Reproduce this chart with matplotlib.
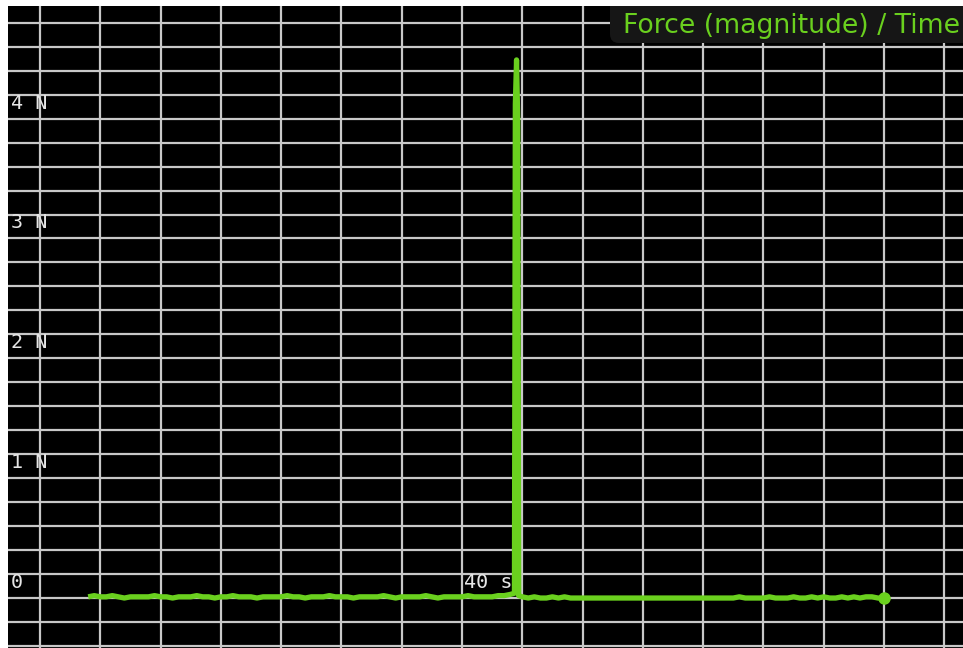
import numpy as np
import matplotlib
matplotlib.use("Agg")
import matplotlib.pyplot as plt
from matplotlib.patches import FancyBboxPatch
from matplotlib.transforms import IdentityTransform

# ---- data ----
pre_time = [round(33.8 + 0.1 * i, 2) for i in range(71)]          # 33.8 .. 40.8 s
pre_force = [0.01, 0.02, 0.01, 0.01, 0.02, 0.01, 0.00, 0.01, 0.01, 0.01,
             0.01, 0.02, 0.01, 0.01, 0.00, 0.01, 0.01, 0.01, 0.02, 0.01,
             0.01, 0.00, 0.01, 0.01, 0.02, 0.01, 0.01, 0.01, 0.00, 0.01,
             0.01, 0.01, 0.01, 0.02, 0.01, 0.01, 0.00, 0.01, 0.01, 0.01,
             0.02, 0.01, 0.01, 0.01, 0.00, 0.01, 0.01, 0.01, 0.01, 0.02,
             0.01, 0.00, 0.01, 0.01, 0.01, 0.01, 0.02, 0.01, 0.00, 0.01,
             0.01, 0.01, 0.01, 0.02, 0.01, 0.01, 0.01, 0.01, 0.02, 0.02,
             0.03]
spike_time = [40.87, 40.885, 40.905, 40.925, 40.94]
spike_force = [0.04, 4.12, 4.49, 3.97, 0.02]
post_time = [round(41.0 + 0.1 * i, 2) for i in range(61)]          # 41.0 .. 47.0 s
post_force = [0.01, 0.00, 0.01, 0.00, 0.00, 0.01, 0.00, 0.01, 0.00, 0.00,
              0.00, 0.00, 0.00, 0.00, 0.00, 0.00, 0.00, 0.00, 0.00, 0.00,
              0.00, 0.00, 0.00, 0.00, 0.00, 0.00, 0.00, 0.00, 0.00, 0.00,
              0.00, 0.00, 0.00, 0.00, 0.00, 0.00, 0.01, 0.00, 0.00, 0.00,
              0.00, 0.01, 0.00, 0.00, 0.00, 0.01, 0.00, 0.00, 0.01, 0.00,
              0.01, 0.00, 0.00, 0.01, 0.00, 0.01, 0.00, 0.01, 0.01, 0.00,
              0.00]

y_label_values = [0, 1, 2, 3, 4]
y_label_texts = ["0", "1 N", "2 N", "3 N", "4 N"]
x_label_values = [40]
x_label_texts = ["40 s"]
title = "Force (magnitude) / Time"

time = pre_time + spike_time + post_time
force = pre_force + spike_force + post_force

GREEN = "#6ad01e"

fig = plt.figure(figsize=(9.63, 6.48), dpi=100, facecolor="white")
ax = fig.add_axes([8 / 963, 0, 955 / 963, 642 / 648])
ax.set_facecolor("black")
ax.set_xlim(32.47, 48.31)
ax.set_ylim(-0.417, 4.94)

ax.set_xticks(np.arange(33, 49, 1.0))
ax.set_yticks(np.arange(-0.4, 4.95, 0.2))
ax.grid(True, color="#c8c8c8", linewidth=1.6)
ax.tick_params(length=0, labelbottom=False, labelleft=False)
for s in ax.spines.values():
    s.set_visible(False)
ax.set_axisbelow(True)

for v, t in zip(y_label_values, y_label_texts):
    ax.annotate(t, xy=(0, v), xycoords=("axes fraction", "data"),
                xytext=(3, 6), textcoords="offset pixels",
                ha="left", va="bottom", color="#e6e6e6", fontsize=14.5,
                family="DejaVu Sans Mono", zorder=2)
for v, t in zip(x_label_values, x_label_texts):
    ax.annotate(t, xy=(v, 0), xycoords="data",
                xytext=(2, 6), textcoords="offset pixels",
                ha="left", va="bottom", color="#e6e6e6", fontsize=14.5,
                family="DejaVu Sans Mono", zorder=2)

ax.plot(time, force, color=GREEN, linewidth=3.8, solid_joinstyle="round",
        solid_capstyle="butt", zorder=3)
ax.plot([post_time[-1]], [post_force[-1]], "o", color=GREEN, markersize=8,
        zorder=4)

fig_h = 648
rect = FancyBboxPatch((610, fig_h - 43), 380, 60,
                      boxstyle="round,pad=0,rounding_size=9",
                      transform=IdentityTransform(), facecolor="#161616",
                      edgecolor="none", zorder=5)
rect.set_clip_path(ax.patch)
ax.add_artist(rect)
ax.text(0.997, 1 - (26 - 6) / 642, title, transform=ax.transAxes,
        ha="right", va="center", color=GREEN, fontsize=19.3,
        family="DejaVu Sans", zorder=6)

fig.savefig("out.png", dpi=100, facecolor="white")
